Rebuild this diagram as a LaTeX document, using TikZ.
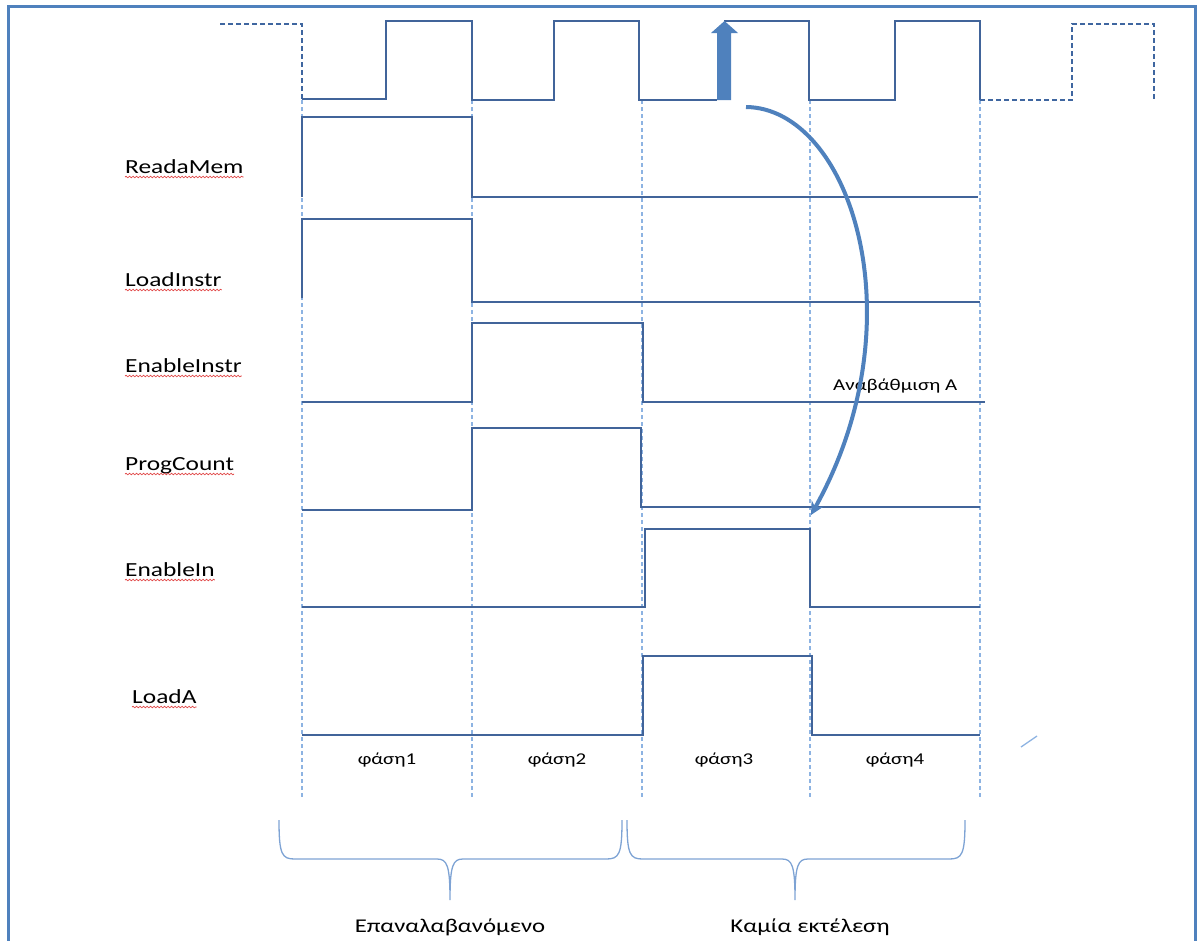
\documentclass[tikz,border=0pt]{standalone}
\usepackage{fontspec}
\setmainfont{Carlito}[FakeStretch=1.27]
\usetikzlibrary{arrows.meta,decorations.pathmorphing,calc}
\definecolor{frameblue}{HTML}{4F81BD}
\definecolor{sigc}{HTML}{41649A}
\definecolor{clkdash}{HTML}{3F66A0}
\definecolor{phasec}{HTML}{8DB3E2}
\definecolor{bracec}{HTML}{7EA3D4}
\definecolor{squigc}{HTML}{E04545}
\begin{document}
\begin{tikzpicture}[x=1pt,y=-1pt,
  sig/.style={draw=sigc,line width=1.6pt,line join=miter},
  clkd/.style={draw=clkdash,line width=1.4pt,dash pattern=on 5pt off 3pt},
  phase/.style={draw=phasec,line width=1.3pt,dash pattern=on 4pt off 3pt},
  lbl/.style={font=\fontsize{20}{24}\selectfont,inner sep=0pt,anchor=base west},
  ph/.style={font=\fontsize{16.5}{19}\selectfont,inner sep=0pt,anchor=base},
  grp/.style={font=\fontsize{19.5}{22}\selectfont,inner sep=0pt,anchor=base},
  squig/.style={draw=squigc,line width=0.7pt,decorate,decoration={snake,amplitude=0.8pt,segment length=3.5pt}},
  bracestyle/.style={draw=bracec,line width=1.3pt}]
\useasboundingbox (0,0) rectangle (1198,940);
% frame
\draw[frameblue,line width=3pt] (8,945) -- (8,6) -- (1195,6) -- (1195,945);
% phase separators
\foreach \x in {302,472,642,810,980} \draw[phase] (\x,100) -- (\x,797);
% clock
\draw[clkd] (220,24) -- (302,24) -- (302,100);
\draw[sig] (302,99) -- (386,99) -- (386,21) -- (472,21) -- (472,100) -- (554,100) -- (554,21) -- (639,21) -- (639,100) -- (717,100);
\draw[sig] (724,21) -- (809,21) -- (809,100) -- (895,100) -- (895,21) -- (980,21) -- (980,100);
\draw[clkd] (980,100) -- (1072,100) -- (1072,24) -- (1154,24) -- (1154,100);
\fill[frameblue] (717,100) -- (717,33) -- (711,33) -- (724.5,21) -- (738,33) -- (731,33) -- (731,100) -- cycle;
% signals
\draw[sig] (302,197) -- (302,117) -- (472,117) -- (472,197) -- (978,197);
\draw[sig] (302,298) -- (302,219) -- (472,219) -- (472,302) -- (980,302);
\draw[sig] (302,402) -- (472,402) -- (472,323) -- (643,323) -- (643,402) -- (985,402);
\draw[sig] (302,510) -- (472,510) -- (472,428) -- (641,428) -- (641,507) -- (980,507);
\draw[sig] (302,607) -- (645,607) -- (645,529) -- (810,529) -- (810,607) -- (980,607);
\draw[sig] (302,735) -- (643,735) -- (643,656) -- (812,656) -- (812,735) -- (980,735);
% labels
\node[lbl] (l1) at (125,173) {ReadaMem};
\node[lbl] (l2) at (125,286) {LoadInstr};
\node[lbl] (l3) at (125,372) {EnableInstr};
\node[lbl] (l4) at (125,470) {ProgCount};
\node[lbl] (l5) at (125,576) {EnableIn};
\node[lbl] (l6) at (132,703) {LoadA};
\foreach \n in {l1,l2,l3,l4,l5,l6}
  \draw[squig] ($(\n.base west)+(0,4)$) -- ($(\n.base east)+(0,4)$);
% phase labels
\node[ph] (p1) at (387,764) {φάση1};
\node[ph] (p2) at (557,764) {φάση2};
\node[ph] (p3) at (724,764) {φάση3};
\node[ph] (p4) at (895,764) {φάση4};
% annotation
\node[ph,anchor=base west] (up) at (833,390) {Αναβάθμιση A};
\draw[frameblue,line width=4pt,-{Stealth[length=13pt,width=13pt]}] (746,107) .. controls (850,108) and (920,320) .. (811,515);
\draw[phasec,line width=1.3pt] (1021,747) -- (1037,736);
% braces
\draw[bracestyle] (279,820) .. controls (279,855) and (282,859) .. (295,859) -- (437,859)
  .. controls (447,859) and (450,865) .. (450,900) .. controls (450,865) and (453,859) .. (463,859)
  -- (606,859) .. controls (619,859) and (622,855) .. (622,820);
\draw[bracestyle] (627,820) .. controls (627,855) and (630,859) .. (643,859) -- (782,859)
  .. controls (792,859) and (795,865) .. (795,900) .. controls (795,865) and (798,859) .. (808,859)
  -- (949,859) .. controls (962,859) and (965,855) .. (965,820);
\node[grp] (g1) at (450,932) {Επαναλαβανόμενο};
\node[grp] (g2) at (810,932) {Καμία εκτέλεση};
\end{tikzpicture}
\end{document}
